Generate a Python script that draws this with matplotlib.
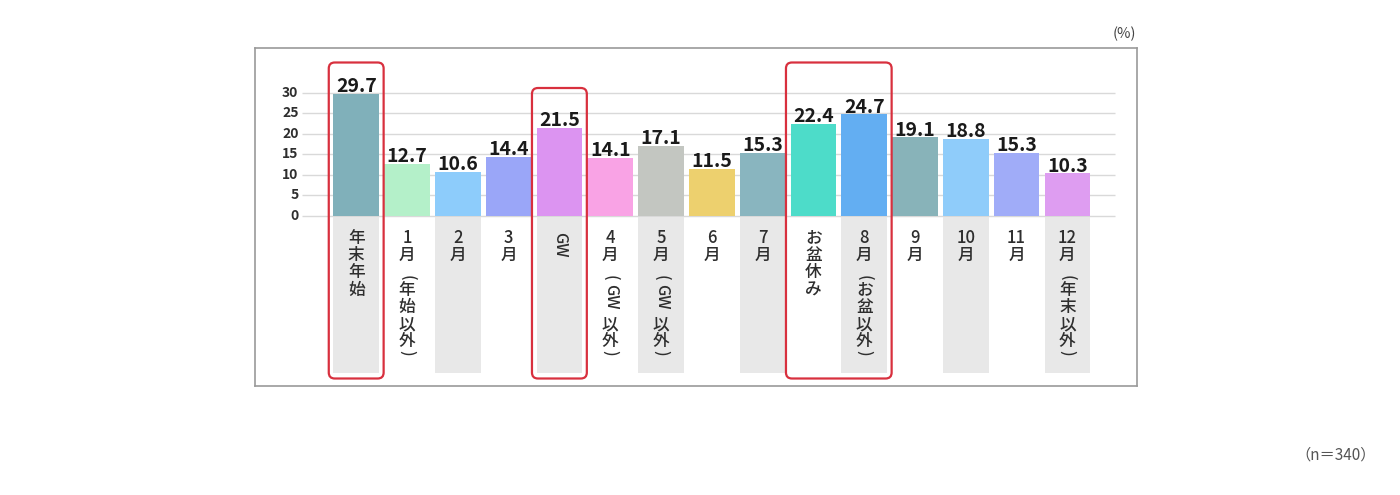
import re
import matplotlib
matplotlib.use('Agg')
import matplotlib.pyplot as plt
from matplotlib.patches import FancyBboxPatch

plt.rcParams['font.family'] = ['Noto Sans CJK JP', 'DejaVu Sans']

# data
categories = ['年末年始', '1月（年始以外）', '2月', '3月', 'GW', '4月（GW 以外）',
              '5月（GW 以外）', '6月', '7月', 'お盆休み', '8月（お盆以外）',
              '9月', '10月', '11月', '12月（年末以外）']
values = [29.7, 12.7, 10.6, 14.4, 21.5, 14.1, 17.1, 11.5, 15.3, 22.4, 24.7,
          19.1, 18.8, 15.3, 10.3]
colors = ['#80B0BA', '#B4F0C9', '#8DCCFB', '#9AA6F8', '#DC94F1', '#F9A3E5',
          '#C3C6C1', '#EDD06E', '#89B5BF', '#4DDCC9', '#63AEF2', '#88B3B9',
          '#8FCCFA', '#A0ACF8', '#DE9DF1']
yticks = [0, 5, 10, 15, 20, 25, 30]
boxed = [(0, 0), (4, 4), (9, 10)]   # red frames, first..last column

# pixel geometry of the reference (1400x495)
W, H = 1400, 495
X0, DX = 356.2, 50.8        # centre of first bar, bar pitch
Y0, DY = 215.7, 4.1         # zero line, px per unit
def dx(px): return (px - X0) / DX
def dy(py): return (Y0 - py) / DY

fig = plt.figure(figsize=(W / 100, H / 100), dpi=100)
ax = fig.add_axes([255 / W, 1 - 386 / H, (1137 - 255) / W, (386 - 48) / H])
ax.set_xlim(dx(255), dx(1137))
ax.set_ylim(dy(386), dy(48))
ax.set_xticks([])
ax.set_yticks([])
for s in ax.spines.values():
    s.set_color('#9A9A9A')
    s.set_linewidth(1.2)

xs = list(range(len(values)))
bw = 45.5 / DX
txt = '#2E2E2E'

# grid
ax.hlines(yticks, dx(301.7), dx(1115), colors='#D9D9D9', lw=1, zorder=1)
for t in yticks:
    ax.text(dx(298.5), t, str(t), ha='right', va='center', fontsize=10,
            color=txt, fontweight='bold')

# bars + values
ax.bar(xs, values, width=bw, color=colors, zorder=2)
for x, v in zip(xs, values):
    ax.text(x, v + 0.45, f'{v:.1f}', ha='center', va='baseline', fontsize=14,
            fontweight='bold', color='#1A1A1A', zorder=4)

# grey label panels on every other column
gx = xs[::2]
ax.bar(gx, [dy(217) - dy(372.5)] * len(gx), bottom=dy(372.5), width=bw,
       color='#E8E8E8', zorder=1)

# vertical category labels
cell = 17.3 / DY
for x, lab in zip(xs, categories):
    top = dy(229)
    for tok in re.findall(r'[A-Za-z]+ ?|\d+|.', lab):
        if tok[0].isascii() and tok[0].isalpha():
            ax.text(x + 0.01, top - 3.5 / DY, tok.strip(), rotation=-90,
                    ha='center', va='top', fontsize=11.5, color=txt,
                    fontweight='medium', zorder=3)
            top -= 2 * cell
        elif tok in '（）':
            shift = 5.5 / DY if tok == '（' else -5.5 / DY
            ax.text(x, top - cell / 2 - shift, '(' if tok == '（' else ')',
                    rotation=-90, ha='center', va='center', fontsize=11.5,
                    color=txt, fontweight='medium', zorder=3)
            top -= cell
        else:
            ax.text(x, top - cell / 2, tok, ha='center', va='center',
                    fontsize=12, color=txt, fontweight='medium', zorder=3)
            top -= cell

# red highlight frames
rx = 6 / DX
for a, b in boxed:
    ytop = dy(88) if a == 4 else dy(62.5)
    ybot = dy(378.5)
    l, r = a - 0.54, b + 0.54
    p = FancyBboxPatch((l, ybot), r - l, ytop - ybot,
                       boxstyle=f'round,pad=0,rounding_size={rx}',
                       mutation_aspect=DX / DY, fc='none', ec='#D8303E',
                       lw=1.6, zorder=5)
    ax.add_patch(p)

fig.text(1136 / W, 1 - 34 / H, '(%)', ha='right', va='center', fontsize=10.5,
         color='#444444')
fig.text(1376 / W, 1 - 455 / H, '（n＝340）', ha='right', va='center',
         fontsize=11, color='#555555')

fig.savefig('out.png', dpi=100)
